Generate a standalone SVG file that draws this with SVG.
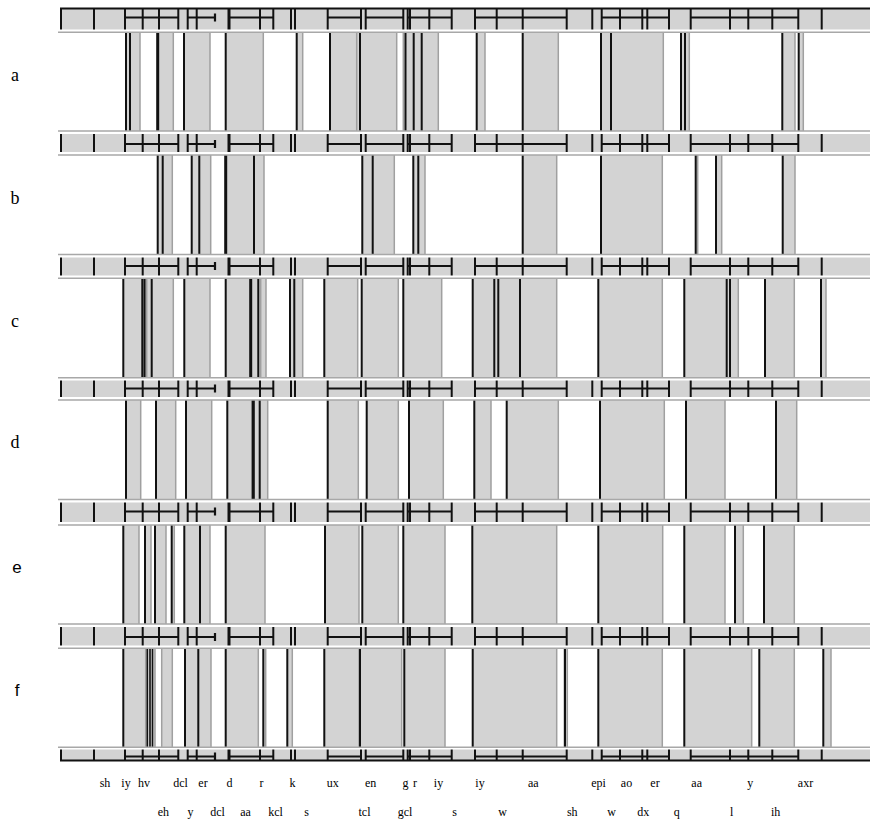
<svg xmlns="http://www.w3.org/2000/svg" width="870" height="822" viewBox="0 0 870 822">
<style>
.strip{fill:#d3d3d3}
.tk{stroke:#111;stroke-width:2;fill:none}
.hz{stroke:#111;stroke-width:2.2;fill:none}
.bg{fill:#fff}
.bd{stroke:#a8a8a8;stroke-width:1.5;fill:none}
.band{fill:#d3d3d3}
.ge{stroke:#a0a0a0;stroke-width:1.5;fill:none}
.bk{stroke:#111;stroke-width:2;fill:none}
.bk3{stroke:#111;stroke-width:3;fill:none}
.rl{font-family:"Liberation Serif",serif;font-size:18px;fill:#000;text-anchor:middle}
.rs{font-family:"Liberation Sans",sans-serif;font-size:17px;fill:#000;text-anchor:middle}
.ph{font-family:"Liberation Serif",serif;font-size:12px;fill:#000;text-anchor:middle}
</style>
<defs>
<path id="hl" class="hz" d="M125 0H178.3M187.7 0H215M229 0H273.3M327.7 0H361M365.7 0H403.3M407.7 0H451.7M475 0H566.7M601.7 0H669M690.7 0H798.3M215 -4V4"/>
</defs>
<g id="track">
<rect class="strip" x="61" y="9" width="809" height="751"/>
<path class="tk" d="M61 9V760M94 9V760M125 9V760M142.7 9V760M159 9V760M178.3 9V760M187.7 9V760M196.7 9V760M260 9V760M273.3 9V760M291 9V760M295 9V760M327.7 9V760M361 9V760M365.7 9V760M403.3 9V760M407.7 9V760M410 9V760M429.3 9V760M451.7 9V760M475 9V760M496.7 9V760M522.7 9V760M566.7 9V760M592.3 9V760M601.7 9V760M620 9V760M642.3 9V760M647.3 9V760M669 9V760M690.7 9V760M730 9V760M748.3 9V760M772.3 9V760M798.3 9V760M821.7 9V760"/>
<path class="tk" style="stroke-width:3" d="M229 9V760"/>
<path class="tk" d="M60 8.5H870M60 760.5H870"/>
</g>
<g id="track-lines">
<use href="#hl" transform="translate(0,17.5)"/>
<use href="#hl" transform="translate(0,144)"/>
<use href="#hl" transform="translate(0,266)"/>
<use href="#hl" transform="translate(0,388.5)"/>
<use href="#hl" transform="translate(0,511.5)"/>
<use href="#hl" transform="translate(0,637)"/>
<use href="#hl" transform="translate(0,756.5)"/>
</g>
<g id="panel-a">
<rect class="bg" x="58" y="29.5" width="812" height="104.5"/>
<path class="band" d="M126 32.5H140V131H126ZM157.7 32.5H173.3V131H157.7ZM184 32.5H210V131H184ZM225.7 32.5H263.3V131H225.7ZM296.7 32.5H302.7V131H296.7ZM330 32.5H396.7V131H330ZM403.3 32.5H438.3V131H403.3ZM476.7 32.5H485V131H476.7ZM522.7 32.5H558.3V131H522.7ZM601 32.5H663.3V131H601ZM681 32.5H689.3V131H681ZM782.3 32.5H795V131H782.3ZM798.7 32.5H803.3V131H798.7Z"/>
<path class="ge" d="M140 32.5V131M173.3 32.5V131M210 32.5V131M263.3 32.5V131M302.7 32.5V131M356.7 32.5V131M396.7 32.5V131M403.3 32.5V131M438.3 32.5V131M485 32.5V131M558.3 32.5V131M663.3 32.5V131M689.3 32.5V131M795 32.5V131M803.3 32.5V131"/>
<path class="bk" d="M126 32.5V131M130 32.5V131M184 32.5V131M225.7 32.5V131M296.7 32.5V131M330 32.5V131M360 32.5V131M405.5 32.5V131M413.7 32.5V131M421.7 32.5V131M476.7 32.5V131M522.7 32.5V131M601 32.5V131M611 32.5V131M681 32.5V131M685 32.5V131M782.3 32.5V131M798.7 32.5V131"/>
<path class="bk3" d="M157.7 32.5V131"/>
<path class="bd" d="M58 32.3H870M58 131H870"/>
<text class="rl" x="15" y="81">a</text>
</g>
<g id="panel-b">
<rect class="bg" x="58" y="152" width="812" height="105.5"/>
<path class="band" d="M157.7 155H172.3V254.5H157.7ZM191.7 155H210.7V254.5H191.7ZM225.7 155H264V254.5H225.7ZM361.7 155H394.3V254.5H361.7ZM413.3 155H425V254.5H413.3ZM522.7 155H556.7V254.5H522.7ZM601 155H662.3V254.5H601ZM695.7 155H697.7V254.5H695.7ZM715.7 155H721.7V254.5H715.7ZM782.7 155H795V254.5H782.7Z"/>
<path class="ge" d="M172.3 155V254.5M210.7 155V254.5M264 155V254.5M394.3 155V254.5M425 155V254.5M556.7 155V254.5M662.3 155V254.5M697.7 155V254.5M721.7 155V254.5M795 155V254.5"/>
<path class="bk" d="M157.7 155V254.5M162.7 155V254.5M191.7 155V254.5M199.3 155V254.5M254 155V254.5M362.3 155V254.5M372.7 155V254.5M413.3 155V254.5M418.3 155V254.5M522.7 155V254.5M601 155V254.5M695.7 155V254.5M716 155V254.5M782.7 155V254.5"/>
<path class="bk3" d="M225.7 155V254.5"/>
<path class="bd" d="M58 155H870M58 254.5H870"/>
<text class="rl" x="15" y="204">b</text>
</g>
<g id="panel-c">
<rect class="bg" x="58" y="275.5" width="812" height="105"/>
<path class="band" d="M123.3 278.3H173.3V377.7H123.3ZM184.3 278.3H210V377.7H184.3ZM225.7 278.3H266V377.7H225.7ZM290 278.3H302.7V377.7H290ZM324.3 278.3H357.7V377.7H324.3ZM361.7 278.3H398.3V377.7H361.7ZM403.3 278.3H441.7V377.7H403.3ZM472.7 278.3H556.7V377.7H472.7ZM598.3 278.3H662.3V377.7H598.3ZM684.3 278.3H738.3V377.7H684.3ZM765 278.3H794.3V377.7H765ZM821 278.3H826V377.7H821Z"/>
<path class="ge" d="M146.7 278.3V377.7M173.3 278.3V377.7M210 278.3V377.7M260.7 278.3V377.7M266 278.3V377.7M302.7 278.3V377.7M357.7 278.3V377.7M398.3 278.3V377.7M441.7 278.3V377.7M556.7 278.3V377.7M662.3 278.3V377.7M738.3 278.3V377.7M794.3 278.3V377.7M826 278.3V377.7"/>
<path class="bk" d="M123.3 278.3V377.7M142.3 278.3V377.7M144.6 278.3V377.7M151.7 278.3V377.7M184.3 278.3V377.7M225.7 278.3V377.7M258.3 278.3V377.7M290 278.3V377.7M294.3 278.3V377.7M324.3 278.3V377.7M361.7 278.3V377.7M403.3 278.3V377.7M472.7 278.3V377.7M494.3 278.3V377.7M498.3 278.3V377.7M520 278.3V377.7M598.3 278.3V377.7M684.3 278.3V377.7M726.7 278.3V377.7M730 278.3V377.7M765 278.3V377.7M821 278.3V377.7"/>
<path class="bk3" d="M250.7 278.3V377.7"/>
<path class="bd" d="M58 278.3H870M58 377.7H870"/>
<text class="rl" x="15" y="327">c</text>
</g>
<g id="panel-d">
<rect class="bg" x="58" y="397" width="812" height="105.5"/>
<path class="band" d="M126 400H140.7V499.5H126ZM156 400H175.7V499.5H156ZM186 400H211.7V499.5H186ZM227.3 400H267.7V499.5H227.3ZM327.7 400H358.3V499.5H327.7ZM366.7 400H398.3V499.5H366.7ZM409 400H443.3V499.5H409ZM474.3 400H491V499.5H474.3ZM506.7 400H558.3V499.5H506.7ZM600 400H664.3V499.5H600ZM686 400H725V499.5H686ZM776 400H796.7V499.5H776Z"/>
<path class="ge" d="M140.7 400V499.5M175.7 400V499.5M211.7 400V499.5M251.7 400V499.5M267.7 400V499.5M358.3 400V499.5M398.3 400V499.5M443.3 400V499.5M491 400V499.5M558.3 400V499.5M664.3 400V499.5M725 400V499.5M796.7 400V499.5"/>
<path class="bk" d="M126 400V499.5M156 400V499.5M186 400V499.5M227.3 400V499.5M259.7 400V499.5M327.7 400V499.5M366.7 400V499.5M409 400V499.5M474.3 400V499.5M506.7 400V499.5M600 400V499.5M686 400V499.5M776 400V499.5"/>
<path class="bk3" d="M253.3 400V499.5"/>
<path class="bd" d="M58 400H870M58 499.5H870"/>
<text class="rl" x="15" y="448">d</text>
</g>
<g id="panel-e">
<rect class="bg" x="58" y="522" width="812" height="105"/>
<path class="band" d="M123.3 525H139V624H123.3ZM145 525H151V624H145ZM155 525H166V624H155ZM171.7 525H174.3V624H171.7ZM184.3 525H210V624H184.3ZM225.7 525H265V624H225.7ZM325 525H359V624H325ZM362.3 525H398.3V624H362.3ZM403.3 525H445V624H403.3ZM472.3 525H556.7V624H472.3ZM598.3 525H662.7V624H598.3ZM684.3 525H725V624H684.3ZM735 525H743.3V624H735ZM764 525H794.3V624H764Z"/>
<path class="ge" d="M139 525V624M151 525V624M166 525V624M174.3 525V624M210 525V624M265 525V624M359 525V624M398.3 525V624M445 525V624M556.7 525V624M662.7 525V624M725 525V624M743.3 525V624M794.3 525V624"/>
<path class="bk" d="M123.3 525V624M145 525V624M155 525V624M171.7 525V624M184.3 525V624M200 525V624M225.7 525V624M325 525V624M362.3 525V624M403.3 525V624M472.3 525V624M598.3 525V624M684.3 525V624M735 525V624M764 525V624"/>
<path class="bd" d="M58 525H870M58 624H870"/>
<text class="rs" x="17" y="573">e</text>
</g>
<g id="panel-f">
<rect class="bg" x="58" y="645.5" width="812" height="104"/>
<path class="band" d="M123.3 648.3H155V747.3H123.3ZM161.7 648.3H172.3V747.3H161.7ZM185 648.3H211V747.3H185ZM225.7 648.3H258.3V747.3H225.7ZM263.3 648.3H265.7V747.3H263.3ZM287.3 648.3H292.3V747.3H287.3ZM324.3 648.3H359V747.3H324.3ZM360 648.3H401.7V747.3H360ZM404.3 648.3H445V747.3H404.3ZM472.7 648.3H556.7V747.3H472.7ZM563 648.3H567.3V747.3H563ZM598.3 648.3H662.3V747.3H598.3ZM684.3 648.3H751.7V747.3H684.3ZM759.3 648.3H794.3V747.3H759.3ZM823.3 648.3H831V747.3H823.3Z"/>
<path class="ge" d="M145.7 648.3V747.3M155 648.3V747.3M161.7 648.3V747.3M172.3 648.3V747.3M211 648.3V747.3M258.3 648.3V747.3M265.7 648.3V747.3M292.3 648.3V747.3M359 648.3V747.3M401.7 648.3V747.3M445 648.3V747.3M556.7 648.3V747.3M567.3 648.3V747.3M662.3 648.3V747.3M751.7 648.3V747.3M794.3 648.3V747.3M831 648.3V747.3"/>
<path class="bk" style="stroke-width:1.6" d="M147.3 648.3V747.3M150 648.3V747.3M152.5 648.3V747.3"/>
<path class="bk" d="M123.3 648.3V747.3M185 648.3V747.3M198.3 648.3V747.3M225.7 648.3V747.3M263.3 648.3V747.3M287.3 648.3V747.3M324.3 648.3V747.3M360 648.3V747.3M404.3 648.3V747.3M472.7 648.3V747.3M565 648.3V747.3M598.3 648.3V747.3M684.3 648.3V747.3M759.3 648.3V747.3M823.3 648.3V747.3"/>
<path class="bd" d="M58 648.3H870M58 747.3H870"/>
<text class="rs" x="17" y="696">f</text>
</g>
<g id="phone-labels">
<text class="ph" x="105" y="787">sh</text>
<text class="ph" x="126" y="787">iy</text>
<text class="ph" x="144" y="787">hv</text>
<text class="ph" x="180.5" y="787">dcl</text>
<text class="ph" x="203" y="787">er</text>
<text class="ph" x="229.5" y="787">d</text>
<text class="ph" x="261.5" y="787">r</text>
<text class="ph" x="292.5" y="787">k</text>
<text class="ph" x="332.7" y="787">ux</text>
<text class="ph" x="370.7" y="787">en</text>
<text class="ph" x="405.5" y="787">g</text>
<text class="ph" x="415" y="787">r</text>
<text class="ph" x="438.5" y="787">iy</text>
<text class="ph" x="480" y="787">iy</text>
<text class="ph" x="533.3" y="787">aa</text>
<text class="ph" x="598.5" y="787">epi</text>
<text class="ph" x="626.5" y="787">ao</text>
<text class="ph" x="655" y="787">er</text>
<text class="ph" x="696.7" y="787">aa</text>
<text class="ph" x="750.3" y="787">y</text>
<text class="ph" x="805.5" y="787">axr</text>
<text class="ph" x="163.3" y="816">eh</text>
<text class="ph" x="190.5" y="816">y</text>
<text class="ph" x="217.5" y="816">dcl</text>
<text class="ph" x="245.5" y="816">aa</text>
<text class="ph" x="275.5" y="816">kcl</text>
<text class="ph" x="306.7" y="816">s</text>
<text class="ph" x="364.5" y="816">tcl</text>
<text class="ph" x="405" y="816">gcl</text>
<text class="ph" x="454.7" y="816">s</text>
<text class="ph" x="502.5" y="816">w</text>
<text class="ph" x="572.3" y="816">sh</text>
<text class="ph" x="611.7" y="816">w</text>
<text class="ph" x="643.3" y="816">dx</text>
<text class="ph" x="676.7" y="816">q</text>
<text class="ph" x="731.7" y="816">l</text>
<text class="ph" x="775.7" y="816">ih</text>
</g>
</svg>
